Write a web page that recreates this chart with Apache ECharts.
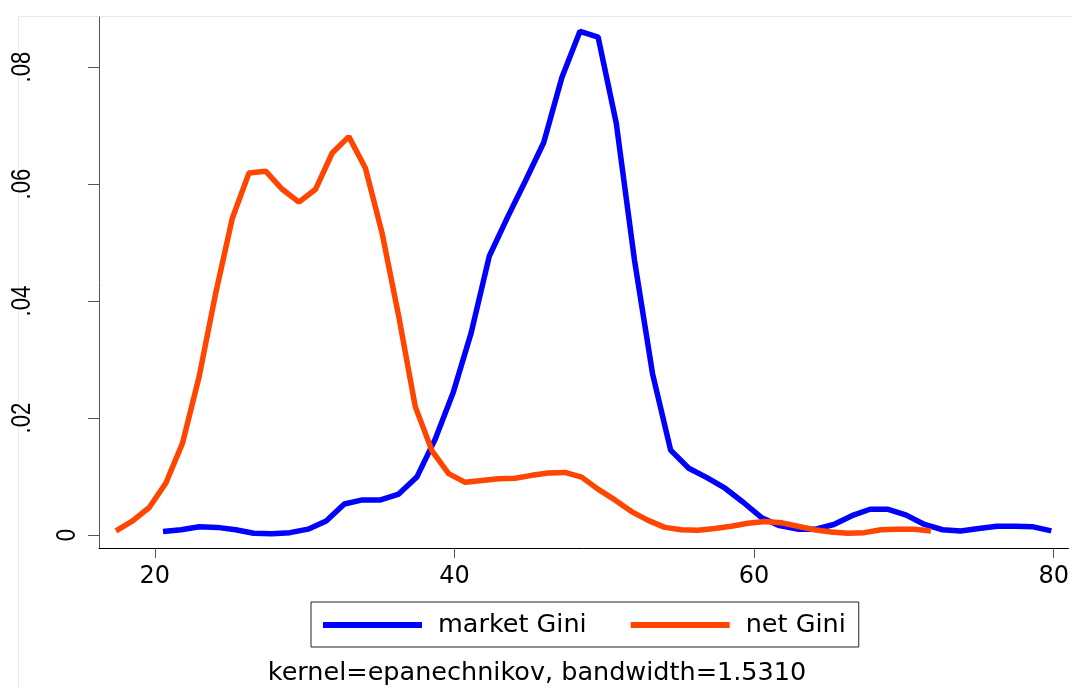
<!DOCTYPE html>
<html><head><meta charset="utf-8">
<script src="https://cdn.jsdelivr.net/npm/echarts@6/dist/echarts.min.js"></script>
<style>html,body{margin:0;padding:0;background:#fff}#c{width:1072px;height:688px}</style>
</head><body><div id="c"></div>
<script>
// ---- data ----
const seriesNames = ['market Gini', 'net Gini'];
const marketX = [20.55,21.76,22.97,24.18,25.39,26.60,27.81,29.02,30.23,31.44,32.65,33.86,35.07,36.28,37.49,38.70,39.91,41.12,42.33,43.54,44.75,45.96,47.17,48.38,49.59,50.80,52.01,53.22,54.43,55.64,56.85,58.06,59.27,60.48,61.69,62.90,64.11,65.32,66.53,67.74,68.95,70.16,71.37,72.58,73.79,75.00,76.21,77.42,78.63,79.84];
const marketY = [0.0006,0.0009,0.0014,0.0013,0.0009,0.0003,0.0002,0.0004,0.0010,0.0024,0.0053,0.0060,0.0060,0.0070,0.0099,0.0163,0.0243,0.0346,0.0477,0.0543,0.0606,0.0671,0.0782,0.0861,0.0851,0.0704,0.0471,0.0276,0.0145,0.0114,0.0098,0.0080,0.0056,0.0030,0.0016,0.0010,0.0010,0.0018,0.0033,0.0044,0.0044,0.0034,0.0018,0.0009,0.0007,0.0011,0.0015,0.0015,0.0014,0.0007];
const netX = [17.41,18.52,19.63,20.74,21.85,22.96,24.07,25.18,26.29,27.40,28.51,29.62,30.73,31.84,32.95,34.06,35.17,36.28,37.39,38.50,39.61,40.72,41.83,42.94,44.05,45.16,46.27,47.38,48.49,49.60,50.71,51.82,52.93,54.04,55.15,56.26,57.37,58.48,59.59,60.70,61.81,62.92,64.03,65.14,66.25,67.36,68.47,69.58,70.69,71.80];
const netY = [0.0007,0.0024,0.0047,0.0089,0.0157,0.0271,0.0414,0.0542,0.0619,0.0622,0.0591,0.0569,0.0591,0.0653,0.0681,0.0627,0.0516,0.0374,0.0219,0.0144,0.0105,0.0090,0.0093,0.0096,0.0097,0.0102,0.0106,0.0107,0.0099,0.0078,0.0060,0.0040,0.0025,0.0013,0.0009,0.0008,0.0011,0.0015,0.0020,0.0023,0.0021,0.0015,0.0009,0.0005,0.0003,0.0004,0.0009,0.0010,0.0010,0.0007];
const xTicks = [20, 40, 60, 80];
const yTicks = [0, 0.02, 0.04, 0.06, 0.08];
const yTickLabels = ['0', '.02', '.04', '.06', '.08'];
const noteText = 'kernel=epanechnikov, bandwidth=1.5310';

// ---- chart ----
const chart = echarts.init(document.getElementById('c'), null, {renderer: 'canvas'});
const FONT = 'DejaVu Sans';
const xMin = 16.275, xMax = 80.99, yMin = -0.002222, yMax = 0.08855;

function pairs(xs, ys) { return xs.map((x, i) => [x, ys[i]]); }

chart.setOption({
  animation: false,
  backgroundColor: '#ffffff',
  grid: {left: 99, top: 17, right: 0, bottom: 140, containLabel: false},
  xAxis: {
    type: 'value', min: xMin, max: xMax,
    axisLine: {show: true, onZero: false, lineStyle: {color: '#000', width: 1}},
    axisTick: {show: true, length: 10, customValues: xTicks, lineStyle: {color: '#555', width: 1}},
    axisLabel: {show: true, customValues: xTicks, margin: 17, fontFamily: FONT, fontSize: 24, color: '#000',
      formatter: v => String(v)},
    splitLine: {show: false}
  },
  yAxis: {
    type: 'value', min: yMin, max: yMax,
    axisLine: {show: true, onZero: false, lineStyle: {color: '#555', width: 1}},
    axisTick: {show: true, length: 11, customValues: yTicks, lineStyle: {color: '#555', width: 1}},
    axisLabel: {show: false},
    splitLine: {show: false}
  },
  legend: {
    show: true, left: 311, top: 602, orient: 'horizontal',
    padding: [10, 13, 9, 12], itemGap: 44, itemWidth: 99, itemHeight: 6, icon: 'rect',
    borderColor: '#222', borderWidth: 1, backgroundColor: '#fff',
    textStyle: {fontFamily: FONT, fontSize: 25.5, color: '#000', padding: [0, 0, 0, 11]},
    data: seriesNames
  },
  series: [
    {name: seriesNames[0], type: 'line', data: pairs(marketX, marketY), symbol: 'none', showSymbol: false,
      lineStyle: {color: '#0000ff', width: 5.5}, itemStyle: {color: '#0000ff'}, z: 3},
    {name: seriesNames[1], type: 'line', data: pairs(netX, netY), symbol: 'none', showSymbol: false,
      lineStyle: {color: '#ff4500', width: 5.5}, itemStyle: {color: '#ff4500'}, z: 4}
  ]
});

// y tick labels (rotated, Stata-style) and the note, positioned through the axis scale
const graphics = [
  {type: 'rect', silent: true, z: -10, shape: {x: 18.5, y: 16.5, width: 1100, height: 700},
    style: {fill: 'none', stroke: '#e3ecef', lineWidth: 1}}
];
yTicks.forEach((v, i) => {
  const py = chart.convertToPixel({gridIndex: 0}, [xMin, v])[1];
  const lbl = yTickLabels[i];
  graphics.push({
    type: 'text', x: (v === 0 ? 68 : 23), y: py, rotation: Math.PI / 2, scaleX: 0.82, scaleY: 1,
    style: {text: lbl, fontFamily: 'Liberation Sans', fontSize: 27, fill: '#000', align: 'center', verticalAlign: 'middle'}
  });
});
graphics.push({
  type: 'text', x: 537, y: 673,
  style: {text: noteText, fontFamily: FONT, fontSize: 25.5, fill: '#000', align: 'center', verticalAlign: 'middle'}
});
chart.setOption({graphic: graphics});
</script>
</body></html>
